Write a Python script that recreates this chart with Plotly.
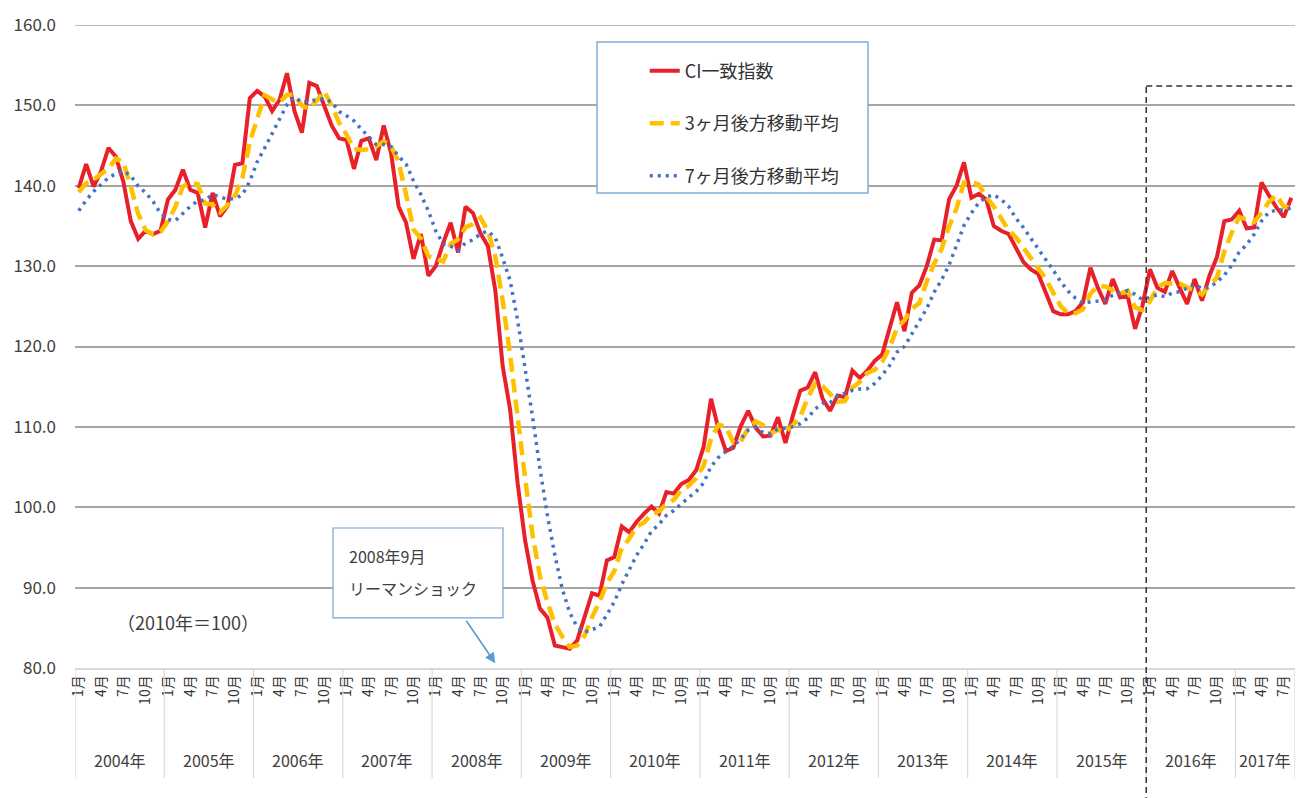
import plotly.graph_objects as go

# ---------------- data ----------------
year_labels = ["2004年", "2005年", "2006年", "2007年", "2008年", "2009年", "2010年",
               "2011年", "2012年", "2013年", "2014年", "2015年", "2016年", "2017年"]
months_per_year = [12, 12, 12, 12, 12, 12, 12, 12, 12, 12, 12, 12, 12, 8]
tick_months = [1, 4, 7, 10]

ci = [139.7, 142.7, 139.9, 141.8, 144.7, 143.6, 140.5, 135.6, 133.4, 134.4, 134.0, 134.4,
      138.3, 139.5, 142.0, 139.5, 139.1, 134.8, 139.1, 136.2, 137.5, 142.6, 142.8, 150.9,
      151.8, 151.1, 149.3, 150.7, 154.0, 149.3, 146.6, 152.8, 152.4, 150.1, 147.5, 145.9,
      145.7, 142.1, 145.6, 145.9, 143.2, 147.5, 144.0, 137.4, 135.4, 130.9, 134.0, 128.8,
      130.0, 132.9, 135.4, 131.7, 137.4, 136.6, 134.1, 132.5, 127.0, 117.5, 112.1, 103.0,
      95.9, 90.9, 87.4, 86.3, 82.8, 82.6, 82.4, 83.4, 86.3, 89.3, 89.0, 93.4,
      93.8, 97.6, 96.9, 98.2, 99.2, 100.1, 99.2, 101.9, 101.7, 102.9, 103.4, 104.6,
      107.5, 113.5, 109.7, 107.0, 107.4, 110.1, 112.0, 109.9, 108.8, 108.9, 111.2, 108.0,
      111.4, 114.5, 114.9, 116.8, 113.5, 112.0, 113.9, 113.7, 117.0, 116.1, 117.0, 118.2,
      119.0, 122.4, 125.5, 121.9, 126.7, 127.6, 130.0, 133.3, 133.2, 138.3, 140.0, 142.9,
      138.5, 139.0, 138.3, 135.0, 134.4, 134.0, 132.3, 130.5, 129.6, 129.0, 126.7, 124.4,
      124.0, 124.0, 124.4, 125.5, 129.8, 127.3, 125.3, 128.4, 126.1, 126.3, 122.2, 125.1,
      129.6, 127.3, 126.8, 129.4, 127.3, 125.3, 128.4, 125.7, 128.8, 131.1, 135.6, 135.8,
      136.9, 134.7, 134.8, 140.4, 138.8, 137.3, 136.1, 138.5]

ma3 = [139.2, 140.3, 140.77, 141.47, 142.13, 143.37, 142.93, 139.90, 136.50, 134.47, 133.93, 134.27,
       135.57, 137.40, 139.93, 140.33, 140.20, 137.80, 137.67, 136.70, 137.60, 138.77, 140.97, 145.43,
       148.50, 151.27, 150.73, 150.37, 151.33, 151.33, 149.97, 149.57, 150.60, 151.77, 150.00, 147.83,
       146.37, 144.57, 144.47, 144.53, 144.90, 145.53, 144.90, 142.97, 138.93, 134.57, 133.43, 131.23,
       130.93, 130.57, 132.77, 133.33, 134.83, 135.23, 136.03, 134.40, 131.20, 125.67, 118.87, 110.87,
       103.67, 96.60, 91.40, 88.20, 85.50, 83.90, 82.60, 82.80, 84.03, 86.33, 88.20, 90.57,
       92.07, 94.93, 96.10, 97.57, 98.10, 99.17, 99.50, 100.40, 100.93, 102.17, 102.67, 103.63,
       105.17, 108.53, 110.23, 110.07, 108.03, 108.17, 109.83, 110.67, 110.23, 109.20, 109.63, 109.37,
       110.20, 111.30, 113.60, 115.40, 115.07, 114.10, 113.13, 113.20, 114.87, 115.60, 116.70, 117.10,
       118.07, 119.87, 122.30, 123.27, 124.70, 125.40, 128.10, 130.30, 132.17, 134.93, 137.17, 140.40,
       140.47, 140.13, 138.60, 137.43, 135.90, 134.47, 133.57, 132.27, 130.80, 129.70, 128.43, 126.70,
       125.03, 124.13, 124.13, 124.63, 126.57, 127.53, 127.47, 127.00, 126.60, 126.93, 124.87, 124.53,
       125.63, 127.33, 127.90, 127.83, 127.83, 127.33, 127.00, 126.47, 127.63, 128.53, 131.83, 134.17,
       136.10, 135.80, 135.47, 136.63, 138.00, 138.83, 137.40, 137.30]

ma7 = [136.9, 138.2, 139.3, 140.2, 141.0, 141.5, 141.84, 141.26, 139.93, 139.14, 138.03, 136.56,
       135.80, 135.66, 136.57, 137.44, 138.11, 138.23, 138.90, 138.60, 138.31, 138.40, 138.87, 140.56,
       142.99, 144.70, 146.57, 148.46, 150.09, 151.01, 150.40, 150.54, 150.73, 150.84, 150.39, 149.23,
       148.71, 148.07, 147.04, 146.11, 145.13, 145.13, 144.86, 143.67, 142.71, 140.61, 138.91, 136.86,
       134.36, 132.77, 132.49, 131.96, 132.89, 133.26, 134.01, 134.37, 133.53, 130.97, 128.17, 123.26,
       117.44, 111.27, 104.83, 99.01, 94.06, 89.84, 86.90, 85.11, 84.46, 84.73, 85.11, 86.63,
       88.23, 90.40, 92.33, 94.03, 95.44, 97.03, 97.86, 99.01, 99.60, 100.46, 101.20, 101.97,
       103.03, 105.07, 106.19, 106.94, 107.59, 108.54, 109.60, 109.94, 109.27, 109.16, 109.76, 109.84,
       110.03, 110.39, 111.10, 112.24, 112.90, 113.01, 113.86, 114.19, 114.54, 114.71, 114.74, 115.41,
       116.41, 117.63, 119.31, 120.01, 121.53, 123.04, 124.73, 126.77, 128.31, 130.14, 132.73, 135.04,
       136.60, 137.89, 138.60, 138.86, 138.30, 137.44, 135.93, 134.79, 133.44, 132.11, 130.93, 129.50,
       128.07, 126.89, 126.01, 125.43, 125.54, 125.63, 125.76, 126.39, 126.69, 126.96, 126.49, 125.81,
       126.14, 126.43, 126.20, 126.67, 126.81, 127.26, 127.73, 127.17, 127.39, 128.00, 128.89, 130.10,
       131.76, 132.66, 133.96, 135.61, 136.71, 136.96, 137.00, 137.23]

y_min, y_max = 80, 160

# ---------------- categories ----------------
cats, tickvals, ticktext = [], [], []
year_start = []
for ylab, n in zip(year_labels, months_per_year):
    year_start.append(len(cats))
    for m in range(1, n + 1):
        c = f"{ylab}{m}月"
        cats.append(c)
        if m in tick_months:
            tickvals.append(c)
            ticktext.append(f"{m}月")
n_total = len(cats)
lehman_cat = "2008年9月"
forecast_start = year_labels.index("2016年")

FONT = "Noto Sans CJK JP, Noto Sans, sans-serif"
TXT = "#404040"
GRID = "#A6A6A6"

fig = go.Figure()
fig.add_trace(go.Scatter(x=cats, y=ci, mode="lines", name="CI一致指数",
                         line=dict(color="#E8202A", width=4), legendgroup="a"))
fig.add_trace(go.Scatter(x=cats, y=ma3, mode="lines", name="3ヶ月後方移動平均",
                         line=dict(color="#FFC000", width=4.5, dash="14px,7px"), legendgroup="b"))
fig.add_trace(go.Scatter(x=cats, y=ma7, mode="lines", name="7ヶ月後方移動平均",
                         line=dict(color="#4472C4", width=3.5, dash="3px,5px"), legendgroup="c"))

shapes = []
# top gridline (plotly drops the gridline on the range edge)
shapes.append(dict(type="line", xref="paper", yref="y", x0=0, x1=1, y0=y_max, y1=y_max,
                   line=dict(color=GRID, width=1.5), layer="below"))
# year divider lines below the axis
for s in year_start + [n_total]:
    shapes.append(dict(type="line", xref="x", yref="paper", x0=s - 0.5, x1=s - 0.5,
                       y0=0, y1=-0.171, line=dict(color="#D9D9D9", width=1.2)))
# forecast region dashed lines
fx = year_start[forecast_start] - 0.5
shapes.append(dict(type="line", xref="x", yref="paper", x0=fx, x1=fx, y0=-0.21, y1=0.905,
                   line=dict(color="#333333", width=1.5, dash="6px,4px"), layer="above"))
shapes.append(dict(type="line", xref="x", yref="paper", x0=fx, x1=n_total + 0.5, y0=0.905, y1=0.905,
                   line=dict(color="#333333", width=1.5, dash="6px,4px"), layer="above"))
# legend frame
shapes.append(dict(type="rect", xref="paper", yref="paper", x0=0.4279, x1=0.650, y0=0.7387, y1=0.9736,
                   line=dict(color="#7FAEDD", width=1.5), fillcolor="white", layer="above"))
# Lehman callout frame
shapes.append(dict(type="rect", xref="paper", yref="paper", x0=0.2115, x1=0.3508, y0=0.0778, y1=0.2177,
                   line=dict(color="#6FA3D8", width=1.2), fillcolor="white", layer="above"))

annotations = []
for ylab, s, n in zip(year_labels, year_start, months_per_year):
    annotations.append(dict(x=s + (n - 1) / 2, y=-0.143, xref="x", yref="paper", text=ylab,
                            yanchor="middle", showarrow=False,
                            font=dict(size=16, color=TXT, family=FONT)))
annotations.append(dict(x=0.223, y=0.174, xref="paper", yref="paper", text="2008年9月",
                        xanchor="left", yanchor="middle", showarrow=False,
                        font=dict(size=16, color=TXT, family=FONT)))
annotations.append(dict(x=0.223, y=0.1244, xref="paper", yref="paper", text="リーマンショック",
                        xanchor="left", yanchor="middle", showarrow=False,
                        font=dict(size=16, color=TXT, family=FONT)))
annotations.append(dict(x=lehman_cat, y=80.6, xref="x", yref="y", text="", showarrow=True,
                        ax=-30, ay=-44, arrowhead=2, arrowsize=1.3, arrowwidth=1.6,
                        arrowcolor="#5B9BD5"))
annotations.append(dict(x=0.033, y=0.0715, xref="paper", yref="paper", text="（2010年＝100）",
                        xanchor="left", yanchor="middle", showarrow=False,
                        font=dict(size=18, color=TXT, family=FONT)))

fig.update_layout(
    width=1299, height=798,
    margin=dict(l=75, r=4, t=25, b=130),
    paper_bgcolor="white", plot_bgcolor="white",
    font=dict(family=FONT, color=TXT),
    showlegend=True,
    legend=dict(x=0.467, y=0.957, xanchor="left", yanchor="top",
                bgcolor="rgba(0,0,0,0)", borderwidth=0,
                traceorder="grouped", tracegroupgap=26,
                font=dict(size=18, color="#333333", family=FONT)),
    xaxis=dict(type="category", range=[-0.5, n_total - 0.5], tickvals=tickvals, ticktext=ticktext,
               tickangle=-90, tickfont=dict(size=14, color="#333333"), showgrid=False,
               showline=True, linecolor="#D9D9D9", linewidth=1.5, ticks="", zeroline=False),
    yaxis=dict(range=[y_min, y_max], tick0=y_min, dtick=10, tickformat=".1f", showgrid=True,
               gridcolor=GRID, gridwidth=1.5, zeroline=False, ticks="",
               ticklabelstandoff=18, tickfont=dict(size=17, color=TXT)),
    shapes=shapes, annotations=annotations,
)

fig.write_html("out.html", config={"displayModeBar": False},
               post_script="document.body.style.margin='0';document.body.style.overflow='hidden';")
